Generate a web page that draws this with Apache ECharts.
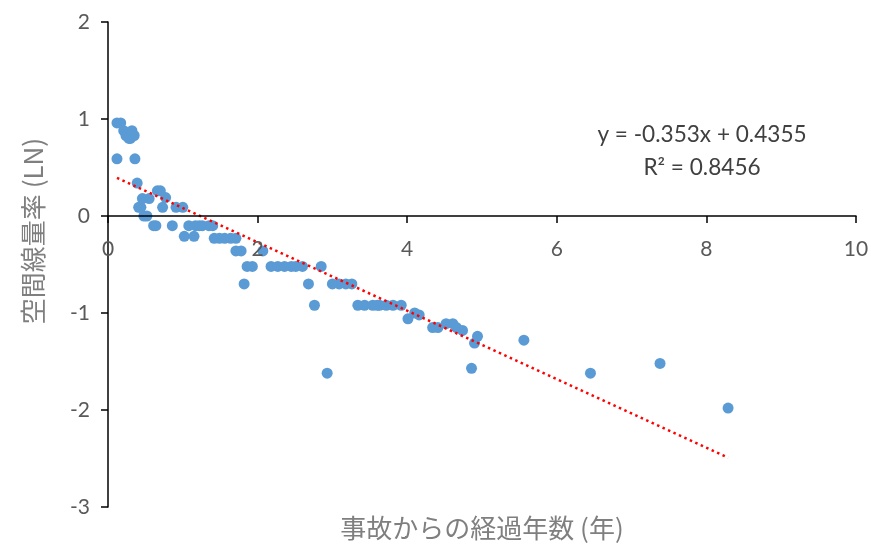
<!DOCTYPE html>
<html>
<head>
<meta charset="utf-8">
<script src="https://cdn.jsdelivr.net/npm/echarts@6/dist/echarts.min.js"></script>
<style>html,body{margin:0;padding:0;background:#fff}#c{width:871px;height:547px}</style>
</head>
<body>
<div id="c"></div>
<script>
const xTitle = '事故からの経過年数 (年)';
const yTitle = '空間線量率 (LN)';
const xTicks = [0, 2, 4, 6, 8, 10];
const yTicks = [-3, -2, -1, 0, 1, 2];
const years = [0.12,0.17,0.21,0.24,0.25,0.28,0.32,0.35,0.30,0.12,0.36,0.39,0.41,0.44,0.46,0.55,0.48,0.52,0.61,0.64,0.66,0.70,0.77,0.73,0.86,0.91,1.00,1.02,1.08,1.15,1.17,1.22,1.26,1.35,1.40,1.42,1.49,1.56,1.64,1.71,1.71,1.78,1.82,1.86,1.93,2.07,2.18,2.27,2.36,2.45,2.51,2.60,2.68,2.76,2.85,2.93,3.00,3.09,3.18,3.26,3.34,3.43,3.54,3.60,3.63,3.72,3.81,3.92,4.01,4.10,4.16,4.34,4.41,4.52,4.61,4.66,4.74,4.86,4.90,4.94,5.56,6.45,7.38,8.29];
const lnRate = [0.96,0.96,0.88,0.83,0.85,0.80,0.88,0.83,0.80,0.59,0.59,0.34,0.09,0.09,0.18,0.18,0.00,0.00,-0.10,-0.10,0.26,0.26,0.19,0.09,-0.10,0.09,0.09,-0.21,-0.10,-0.21,-0.10,-0.10,-0.10,-0.10,-0.10,-0.23,-0.23,-0.23,-0.23,-0.23,-0.36,-0.36,-0.70,-0.52,-0.52,-0.36,-0.52,-0.52,-0.52,-0.52,-0.52,-0.52,-0.70,-0.92,-0.52,-1.62,-0.70,-0.70,-0.70,-0.70,-0.92,-0.92,-0.92,-0.92,-0.92,-0.92,-0.92,-0.92,-1.06,-1.00,-1.02,-1.15,-1.15,-1.11,-1.11,-1.15,-1.18,-1.57,-1.31,-1.24,-1.28,-1.62,-1.52,-1.98];
const slope = -0.353, intercept = 0.4355;
const eqText = 'y = -0.353x + 0.4355';
const r2Text = 'R² = 0.8456';

const pts = years.map((x, i) => [x, lnRate[i]]);
const xMin = Math.min(...years), xMax = Math.max(...years);
const trend = [[xMin, slope * xMin + intercept], [xMax, slope * xMax + intercept]];

const latin = 'Lato, "Liberation Sans", sans-serif';
const cjk = '"Noto Sans CJK JP", sans-serif';
const gridTop = 22, gridBottom = 40, H = 547;
const plotH = H - gridTop - gridBottom;
const yMin = yTicks[0], yMax = yTicks[yTicks.length - 1];
// shift the x axis up from the bottom edge to the y = 0 line
const zeroOffset = -plotH * (0 - yMin) / (yMax - yMin);

const chart = echarts.init(document.getElementById('c'), null, {renderer: 'canvas'});
chart.setOption({
  animation: false,
  backgroundColor: '#fff',
  grid: {left: 108, right: 15, top: gridTop, bottom: gridBottom, containLabel: false, outerBoundsMode: 'none'},
  xAxis: {
    type: 'value', min: xTicks[0], max: xTicks[xTicks.length - 1], interval: 2,
    position: 'bottom', offset: zeroOffset, zlevel: 1,
    axisLine: {onZero: false, lineStyle: {color: '#000', width: 1.5}},
    axisTick: {show: true, length: 7, lineStyle: {color: '#000', width: 1.5}},
    axisLabel: {color: '#595959', fontSize: 21, fontFamily: latin, margin: 23},
    splitLine: {show: false},
    name: xTitle, nameLocation: 'middle', nameGap: 299,
    nameTextStyle: {color: '#7f7f7f', fontSize: 26, fontFamily: cjk}
  },
  yAxis: {
    type: 'value', min: yMin, max: yMax, interval: 1,
    axisLine: {show: true, onZero: false, lineStyle: {color: '#000', width: 1.5}},
    axisTick: {show: true, length: 7, lineStyle: {color: '#000', width: 1.5}},
    axisLabel: {color: '#595959', fontSize: 21, fontFamily: latin, margin: 18},
    splitLine: {show: false}
  },
  series: [
    {
      type: 'scatter', data: pts, symbol: 'circle', symbolSize: 11,
      itemStyle: {color: '#5B9BD5', opacity: 1}, z: 2
    },
    {
      type: 'line', data: trend, symbol: 'none', silent: true,
      lineStyle: {color: '#FF0000', width: 2.5, type: [2.5, 3.5], cap: 'butt'}, z: 3
    }
  ],
  graphic: [
    {type: 'text', x: 33, y: 231, rotation: Math.PI / 2,
     style: {text: yTitle, fill: '#7f7f7f', font: '26px ' + cjk, align: 'center', verticalAlign: 'middle'}},
    {type: 'text', x: 702, y: 135, style: {text: eqText, fill: '#404040', font: '22.6px ' + latin, align: 'center', verticalAlign: 'middle'}},
    {type: 'text', x: 702, y: 168, style: {text: r2Text, fill: '#404040', font: '22.6px ' + latin, align: 'center', verticalAlign: 'middle'}}
  ]
});
</script>
</body>
</html>
